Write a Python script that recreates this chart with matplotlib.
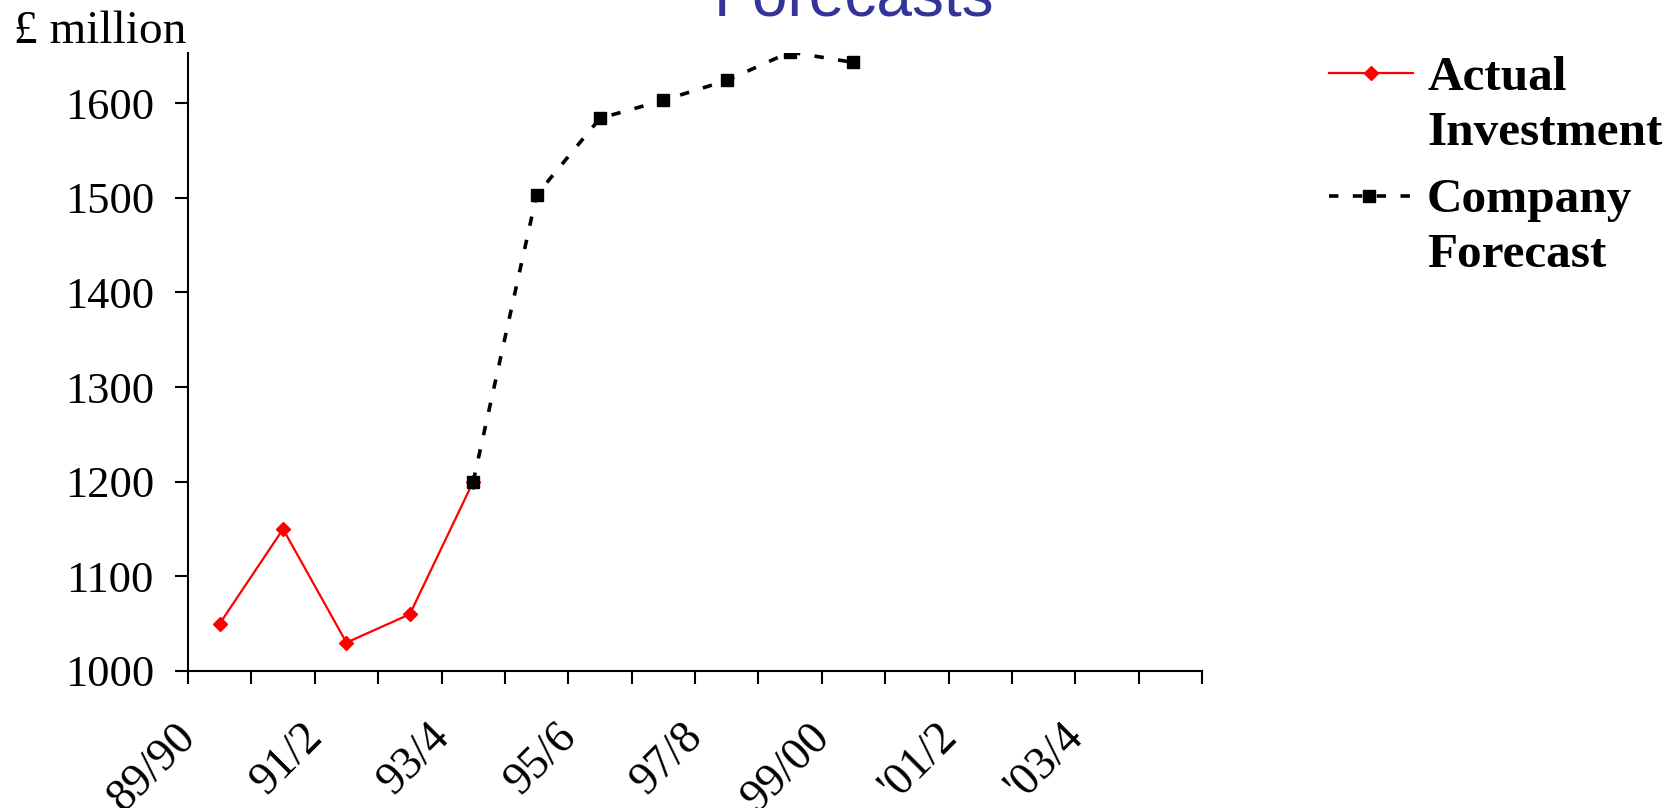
import matplotlib.pyplot as plt
import numpy as np
from matplotlib.lines import Line2D
from matplotlib.transforms import ScaledTranslation

# Financial years on the category axis (only every other one is labelled)
years = ["89/90", "90/1", "91/2", "92/3", "93/4", "94/5", "95/6", "96/7",
         "97/8", "98/9", "99/00", "'00/1", "'01/2", "'02/3", "'03/4", "'04/5"]

# £ million
actual = [1050, 1150, 1030, 1060, 1200]
forecast = [1200, 1503, 1584, 1603, 1624, 1654, 1643]
forecast_start = 4  # forecast series begins at 93/4

yticks = [1000, 1100, 1200, 1300, 1400, 1500, 1600]

SERIF = ["Liberation Serif", "DejaVu Serif"]
SANS = ["Liberation Sans", "DejaVu Sans"]
FC_DASH = (0, (2.6, 4.0))

W, H = 1676, 808
fig = plt.figure(figsize=(W / 100, H / 100), dpi=100)
ax = fig.add_axes([188 / W, 1 - 671 / H, (1202 - 188) / W, (671 - 53) / H])

x_act = np.arange(len(actual))
x_fc = forecast_start + np.arange(len(forecast))

ax.plot(x_fc, forecast, color="black", lw=2.6, linestyle=FC_DASH,
        dash_capstyle="butt", marker="s", markersize=9, zorder=3)
ax.plot(x_act, actual, color="red", lw=1.6, marker="D", markersize=7,
        zorder=2)

ax.set_xlim(-0.5, len(years) - 0.5)
ax.set_ylim(1000, 1653)

for side in ("top", "right"):
    ax.spines[side].set_visible(False)
for side in ("left", "bottom"):
    ax.spines[side].set_linewidth(1.5)

# tick marks sit on the category boundaries, labels on alternate centres
ax.set_xticks(np.arange(len(years) + 1) - 0.5)
ax.set_xticklabels([])
ax.set_xticks(np.arange(0, len(years), 2), minor=True)
ax.set_xticklabels(years[::2], minor=True, rotation=45, ha="right",
                   va="center", rotation_mode="anchor", fontsize=33,
                   family=SERIF)
ax.tick_params(axis="x", which="major", direction="out", length=9.5,
               width=1.5)
ax.tick_params(axis="x", which="minor", length=0, pad=43)
shift = ScaledTranslation(-30 / 100, 0, fig.dpi_scale_trans)
for lab in ax.get_xticklabels(minor=True):
    lab.set_transform(lab.get_transform() + shift)

ax.set_yticks(yticks)
ax.set_yticklabels([str(v) for v in yticks], fontsize=32, family=SERIF)
ax.tick_params(axis="y", direction="out", length=9.5, width=1.5, pad=15)

fig.text(14 / W, 1 - 43 / H, "£ million", ha="left", va="baseline",
         fontsize=34, family=SERIF)
fig.text(854 / W, 1 - 16 / H, "Forecasts", ha="center", va="baseline",
         fontsize=46, color="#333399", family=SANS)

# legend, drawn by hand so the keys line up with the first text line
fig.add_artist(Line2D([1329 / W, 1413 / W], [1 - 73 / H, 1 - 73 / H],
                      color="red", lw=1.6, transform=fig.transFigure))
fig.add_artist(Line2D([1371 / W], [1 - 73 / H], color="red", marker="D",
                      markersize=7, transform=fig.transFigure))
fig.add_artist(Line2D([1329 / W, 1413 / W], [1 - 196 / H, 1 - 196 / H],
                      color="black", lw=2.6, linestyle=FC_DASH,
                      dash_capstyle="butt", transform=fig.transFigure))
fig.add_artist(Line2D([1369 / W], [1 - 196 / H], color="black", marker="s",
                      markersize=9, transform=fig.transFigure))

legend_lines = [("Actual", 90), ("Investment", 145),
                ("Company", 212), ("Forecast", 267)]
for txt, base in legend_lines:
    fig.text(1427 / W, 1 - base / H, txt, ha="left", va="baseline",
             fontsize=35.5, fontweight="bold", family=SERIF)

fig.savefig("out.png", dpi=100)
